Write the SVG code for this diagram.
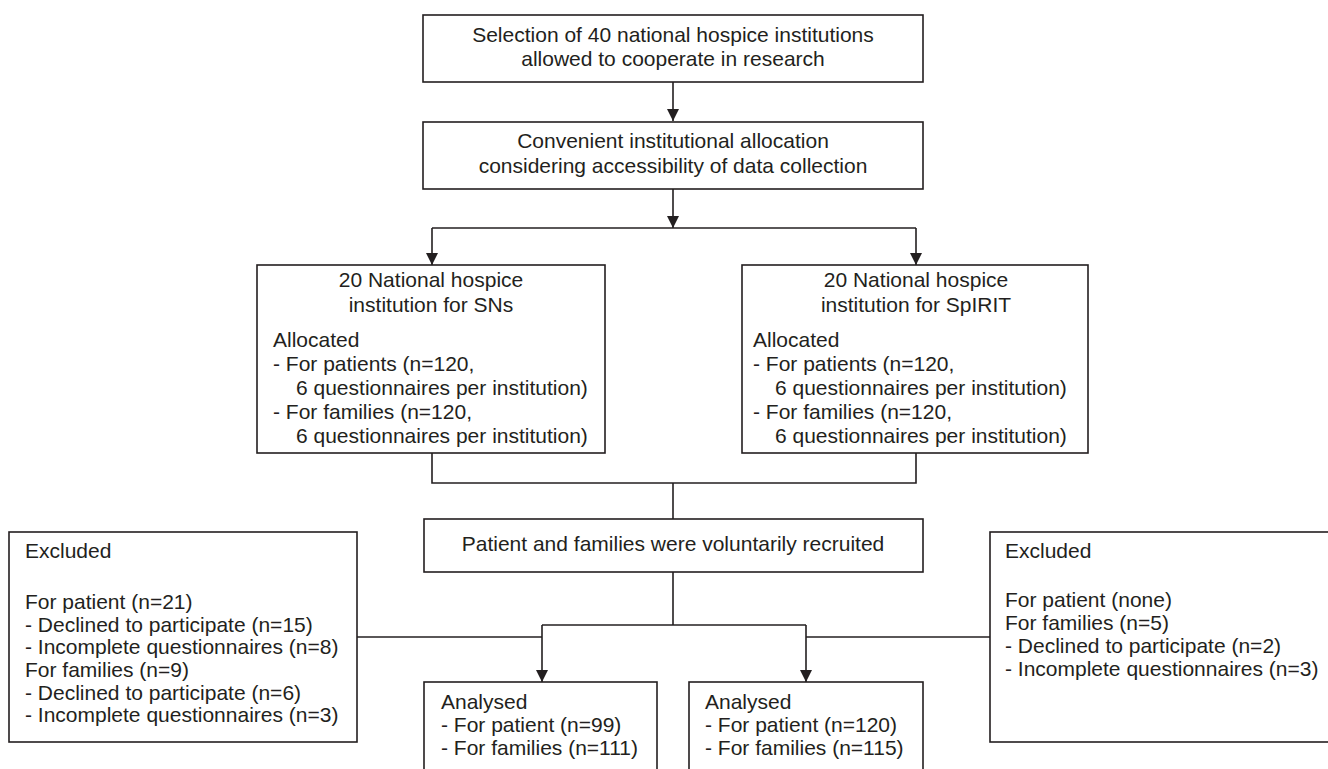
<svg xmlns="http://www.w3.org/2000/svg" width="1328" height="769" viewBox="0 0 1328 769">
  <style>
    .box { fill: #ffffff; stroke: #231f20; stroke-width: 1.6; }
    .ln { fill: none; stroke: #231f20; stroke-width: 1.6; }
    text { font-family: "Liberation Sans", Arial, Helvetica, sans-serif; font-size: 21px; fill: #231f20; }
    .c { text-anchor: middle; }
  </style>
  <defs>
    <marker id="arr" markerUnits="userSpaceOnUse" markerWidth="12" markerHeight="12" refX="12" refY="6" orient="auto">
      <path d="M0,0 L12,6 L0,12 z" fill="#231f20"/>
    </marker>
  </defs>
  <rect width="1328" height="769" fill="#ffffff"/>

  <g id="connectors">
    <line class="ln" x1="673" y1="82" x2="673" y2="121" marker-end="url(#arr)"/>
    <line class="ln" x1="673" y1="189" x2="673" y2="228" marker-end="url(#arr)"/>
    <line class="ln" x1="432" y1="228" x2="916" y2="228"/>
    <line class="ln" x1="432" y1="228" x2="432" y2="265" marker-end="url(#arr)"/>
    <line class="ln" x1="916" y1="228" x2="916" y2="265" marker-end="url(#arr)"/>
    <polyline class="ln" points="432,453 432,483 916,483 916,453"/>
    <line class="ln" x1="673" y1="483" x2="673" y2="519"/>
    <line class="ln" x1="673" y1="572" x2="673" y2="625"/>
    <line class="ln" x1="542" y1="625" x2="806" y2="625"/>
    <line class="ln" x1="542" y1="625" x2="542" y2="682" marker-end="url(#arr)"/>
    <line class="ln" x1="806" y1="625" x2="806" y2="682" marker-end="url(#arr)"/>
    <line class="ln" x1="357" y1="637" x2="542" y2="637"/>
    <line class="ln" x1="806" y1="637" x2="990" y2="637"/>
  </g>

  <g id="selection">
    <rect class="box" x="423" y="15" width="500" height="67"/>
    <text class="c" x="673" y="42">Selection of 40 national hospice institutions</text>
    <text class="c" x="673" y="66">allowed to cooperate in research</text>
  </g>

  <g id="allocation">
    <rect class="box" x="423" y="122" width="500" height="67"/>
    <text class="c" x="673" y="148">Convenient institutional allocation</text>
    <text class="c" x="673" y="173">considering accessibility of data collection</text>
  </g>

  <g id="sns">
    <rect class="box" x="257" y="265" width="348" height="188"/>
    <text class="c" x="431" y="287">20 National hospice</text>
    <text class="c" x="431" y="312">institution for SNs</text>
    <text x="273" y="347">Allocated</text>
    <text x="273" y="371">- For patients (n=120,</text>
    <text x="296" y="395">6 questionnaires per institution)</text>
    <text x="273" y="419">- For families (n=120,</text>
    <text x="296" y="443">6 questionnaires per institution)</text>
  </g>

  <g id="spirit">
    <rect class="box" x="742" y="265" width="346" height="188"/>
    <text class="c" x="916" y="287">20 National hospice</text>
    <text class="c" x="916" y="312">institution for SpIRIT</text>
    <text x="753" y="347">Allocated</text>
    <text x="753" y="371">- For patients (n=120,</text>
    <text x="775" y="395">6 questionnaires per institution)</text>
    <text x="753" y="419">- For families (n=120,</text>
    <text x="775" y="443">6 questionnaires per institution)</text>
  </g>

  <g id="recruited">
    <rect class="box" x="424" y="519" width="499" height="53"/>
    <text class="c" x="673" y="551">Patient and families were voluntarily recruited</text>
  </g>

  <g id="excluded-left">
    <rect class="box" x="9" y="532" width="348" height="210"/>
    <text x="25" y="558">Excluded</text>
    <text x="25" y="609">For patient (n=21)</text>
    <text x="25" y="632">- Declined to participate (n=15)</text>
    <text x="25" y="654">- Incomplete questionnaires (n=8)</text>
    <text x="25" y="677">For families (n=9)</text>
    <text x="25" y="700">- Declined to participate (n=6)</text>
    <text x="25" y="722">- Incomplete questionnaires (n=3)</text>
  </g>

  <g id="excluded-right">
    <rect class="box" x="990" y="532" width="345" height="210"/>
    <text x="1005" y="558">Excluded</text>
    <text x="1005" y="607">For patient (none)</text>
    <text x="1005" y="630">For families (n=5)</text>
    <text x="1005" y="653">- Declined to participate (n=2)</text>
    <text x="1005" y="676">- Incomplete questionnaires (n=3)</text>
  </g>

  <g id="analysed-left">
    <rect class="box" x="424" y="682" width="233" height="100"/>
    <text x="441" y="709">Analysed</text>
    <text x="441" y="732">- For patient (n=99)</text>
    <text x="441" y="755">- For families (n=111)</text>
  </g>

  <g id="analysed-right">
    <rect class="box" x="689" y="682" width="234" height="100"/>
    <text x="705" y="709">Analysed</text>
    <text x="705" y="732">- For patient (n=120)</text>
    <text x="705" y="755">- For families (n=115)</text>
  </g>
</svg>
